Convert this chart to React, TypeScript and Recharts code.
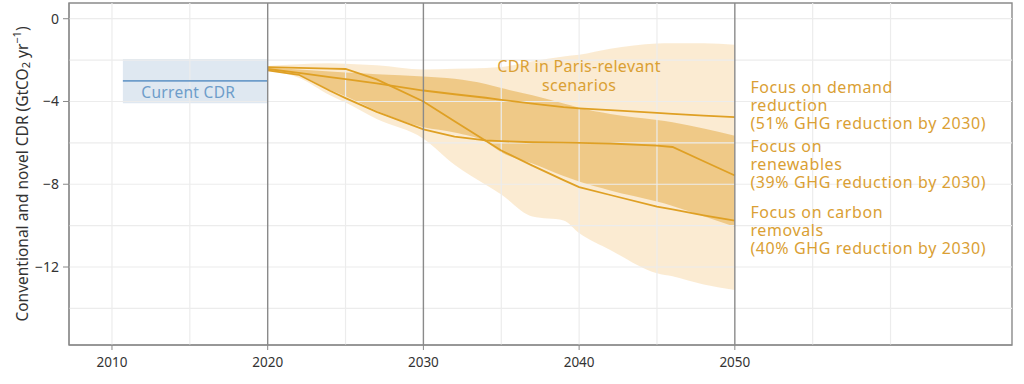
import React from "react";
import {
  ComposedChart,
  Area,
  Line,
  XAxis,
  YAxis,
  ReferenceLine,
  ReferenceArea,
  ReferenceDot,
} from "recharts";

const years = [2020, 2022, 2024, 2025, 2027, 2030, 2032, 2034, 2035, 2037, 2039, 2040, 2042, 2045, 2046, 2048, 2050];

// Illustrative pathways (GtCO2/yr, negative = removal)
const demandReduction = [-2.43, -2.62, -2.82, -2.92, -3.12, -3.47, -3.65, -3.82, -3.92, -4.1, -4.27, -4.33, -4.42, -4.55, -4.6, -4.68, -4.76];
const renewables = [-2.5, -2.71, -3.48, -3.84, -4.5, -5.35, -5.7, -5.88, -5.92, -5.97, -5.99, -6.0, -6.03, -6.13, -6.2, -6.89, -7.58];
const carbonRemovals = [-2.34, -2.38, -2.41, -2.43, -2.93, -4.0, -4.95, -5.9, -6.37, -7.1, -7.8, -8.14, -8.52, -9.08, -9.22, -9.5, -9.76];

// Paris-relevant scenarios: full range + interquartile range
const rangeLow = [-2.5, -2.85, -3.7, -4.05, -4.85, -5.8, -7.06, -8.03, -8.5, -9.56, -9.75, -10.36, -11.18, -12.3, -12.45, -12.85, -13.11];
const rangeHigh = [-2.28, -2.2, -2.15, -2.18, -2.25, -2.45, -2.42, -2.38, -2.33, -2.05, -1.82, -1.74, -1.45, -1.2, -1.18, -1.18, -1.26];
const iqrLow = [-2.5, -2.72, -3.45, -3.75, -4.45, -5.25, -5.5, -5.95, -6.45, -7.0, -7.6, -7.87, -8.3, -8.84, -9.05, -9.55, -10.05];
const iqrHigh = [-2.36, -2.45, -2.55, -2.6, -2.68, -2.79, -2.9, -3.15, -3.35, -3.7, -4.1, -4.3, -4.6, -4.89, -5.0, -5.3, -5.66];

// Current CDR (range and central value)
const currentYears = [2010.7, 2020];
const currentValue = -3.0;
const currentRange = [-4.08, -1.95];

const xTicks = [2010, 2020, 2030, 2040, 2050];
const yTicks = [0, -4, -8, -12];
const gridYears = [2010, 2015, 2025, 2035, 2040, 2045, 2055, 2060];
const gridValues = [0, -2, -4, -6, -8, -10, -12, -14];
const markedYears = [2020, 2030, 2050];

const demandLabel = ["Focus on demand", "reduction", "(51% GHG reduction by 2030)"];
const renewablesLabel = ["Focus on", "renewables", "(39% GHG reduction by 2030)"];
const removalsLabel = ["Focus on carbon", "removals", "(40% GHG reduction by 2030)"];
const parisLabel = ["CDR in Paris-relevant", "scenarios"];

const xDomain = [2007.24, 2067.8];
const yDomain = [-15.77, 0.76];

const data = years.map((year, i) => ({
  year,
  demand: demandReduction[i],
  renewables: renewables[i],
  removals: carbonRemovals[i],
  range: [rangeLow[i], rangeHigh[i]],
  iqr: [iqrLow[i], iqrHigh[i]],
}));

const GOLD = "#dfa024";
const GOLD_TEXT = "#daa034";
const BLUE = "#6e9dca";

function Note({ viewBox, lines, color, anchor = "start", size = 16, lh = 18, spacing = 0.6 }: any) {
  const { x, y } = viewBox;
  return (
    <text x={x} y={y} fill={color} fontSize={size} textAnchor={anchor} letterSpacing={spacing}>
      {lines.map((t: string, i: number) => (
        <tspan key={i} x={x} y={y + i * lh} dy="0.35em">
          {t}
        </tspan>
      ))}
    </text>
  );
}

function AxisTitle({ viewBox }: any) {
  const cx = viewBox.x + 22;
  const cy = viewBox.y + viewBox.height / 2;
  return (
    <text
      transform={`translate(${cx},${cy}) rotate(-90)`}
      textAnchor="middle"
      dominantBaseline="central"
      fill="#333"
      fontSize={15.5}
    >
      Conventional and novel CDR (GtCO
      <tspan dy={3} fontSize={11}>2</tspan>
      <tspan dy={-3}> yr</tspan>
      <tspan dy={-6} fontSize={11}>−1</tspan>
      <tspan dy={6}>)</tspan>
    </text>
  );
}

export default function App() {
  return (
    <div style={{ position: "absolute", left: 0, top: 0, fontFamily: "'Noto Sans', sans-serif" }}>
      <ComposedChart
        width={1024}
        height={384}
        data={data}
        margin={{ top: 3, right: 12, bottom: 0, left: 0 }}
      >
        <XAxis
          type="number"
          dataKey="year"
          domain={xDomain}
          allowDataOverflow
          ticks={xTicks}
          height={39}
          tickSize={5}
          tickMargin={7}
          tick={{ fill: "#333", fontSize: 13.5 }}
          stroke="#888"
        />
        <YAxis
          type="number"
          domain={yDomain}
          allowDataOverflow
          ticks={yTicks}
          width={69}
          tickSize={6}
          tickMargin={4}
          tick={{ fill: "#333", fontSize: 14 }}
          stroke="#888"
          tickFormatter={(v: number) => (v < 0 ? `\u2212${-v}` : `${v}`)}
          label={<AxisTitle />}
        />
        {gridYears.map((yr) => (
          <ReferenceLine key={`gx${yr}`} x={yr} stroke="#ececec" strokeWidth={1.2} />
        ))}
        {gridValues.map((v) => (
          <ReferenceLine key={`gy${v}`} y={v} stroke="#ececec" strokeWidth={1.2} />
        ))}
        <ReferenceArea
          x1={currentYears[0]}
          x2={currentYears[1]}
          y1={currentRange[0]}
          y2={currentRange[1]}
          fill="#dfe8f1"
          fillOpacity={1}
          stroke="none"
        />
        <ReferenceLine
          segment={[
            { x: currentYears[0], y: currentValue },
            { x: currentYears[1], y: currentValue },
          ]}
          stroke={BLUE}
          strokeWidth={1.8}
        />
        <Area
          dataKey="range"
          type="monotone"
          fill="#eeb350"
          fillOpacity={0.26}
          stroke="none"
          isAnimationActive={false}
        />
        <Area
          dataKey="iqr"
          type="monotone"
          fill="#e1a02d"
          fillOpacity={0.45}
          stroke="none"
          isAnimationActive={false}
        />
        <Line dataKey="demand" type="linear" stroke={GOLD} strokeWidth={1.8} dot={false} isAnimationActive={false} />
        <Line dataKey="renewables" type="linear" stroke={GOLD} strokeWidth={1.8} dot={false} isAnimationActive={false} />
        <Line dataKey="removals" type="linear" stroke={GOLD} strokeWidth={1.8} dot={false} isAnimationActive={false} />
        {markedYears.map((yr) => (
          <ReferenceLine key={`m${yr}`} x={yr} stroke="#8a8a8a" strokeWidth={1.4} />
        ))}
        <ReferenceArea
          x1={xDomain[0]}
          x2={xDomain[1]}
          y1={yDomain[0]}
          y2={yDomain[1]}
          fill="none"
          stroke="#8a8a8a"
          strokeWidth={1.4}
        />
        <ReferenceDot
          x={2014.9}
          y={-3.55}
          r={0}
          fill="none"
          stroke="none"
          label={<Note lines={["Current CDR"]} color={BLUE} anchor="middle" size={15.5} spacing={0.3} />}
        />
        <ReferenceDot
          x={2040}
          y={-2.31}
          r={0}
          fill="none"
          stroke="none"
          label={<Note lines={parisLabel} color={GOLD_TEXT} anchor="middle" size={16} lh={19} spacing={0.3} />}
        />
        <ReferenceDot
          x={2051}
          y={-3.3}
          r={0}
          fill="none"
          stroke="none"
          label={<Note lines={demandLabel} color={GOLD_TEXT} />}
        />
        <ReferenceDot
          x={2051}
          y={-6.17}
          r={0}
          fill="none"
          stroke="none"
          label={<Note lines={renewablesLabel} color={GOLD_TEXT} />}
        />
        <ReferenceDot
          x={2051}
          y={-9.35}
          r={0}
          fill="none"
          stroke="none"
          label={<Note lines={removalsLabel} color={GOLD_TEXT} />}
        />
      </ComposedChart>
    </div>
  );
}
